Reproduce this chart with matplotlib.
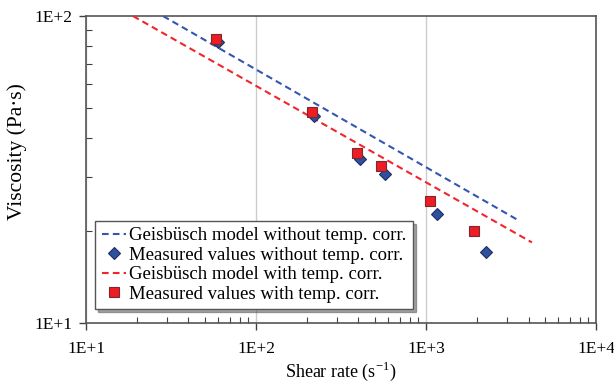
import matplotlib
matplotlib.use("Agg")
import matplotlib.pyplot as plt
from matplotlib.ticker import LogLocator, NullFormatter, FixedFormatter, FixedLocator

plt.rcParams['font.family'] = ['Liberation Serif', 'DejaVu Serif']

# measured values (shear rate 1/s, viscosity Pa s)
rate_without = [59.5, 219, 409, 574, 1161, 2244]
visc_without = [82.3, 47.2, 34.1, 30.6, 22.6, 17.0]
rate_with = [58.2, 213, 391, 542, 1056, 1909]
visc_with = [84.0, 48.8, 35.9, 32.5, 24.9, 19.9]

# Geisbüsch model lines (end points)
model_rate_without = [28.4, 3540]
model_visc_without = [100, 21.5]
model_rate_with = [18.9, 4190]
model_visc_with = [100, 18.3]

labels = ["Geisbüsch model without temp. corr.",
          "Measured values without temp. corr.",
          "Geisbüsch model with temp. corr.",
          "Measured values with temp. corr."]

fig = plt.figure(figsize=(6.14, 3.82), dpi=100)
ax = fig.add_axes([0.140, 0.1545, 0.831, 0.8035])

ax.plot(model_rate_without, model_visc_without, color='#3556b0', lw=1.5,
        dashes=(3.2, 2), label=labels[0], zorder=3)
ax.plot(rate_without, visc_without, ls='none', marker='D', ms=6.5,
        mfc='#2f4f9f', mec='#1c2f66', mew=0.8, label=labels[1], zorder=4)
ax.plot(model_rate_with, model_visc_with, color='#f0262e', lw=1.5,
        dashes=(3.2, 2), label=labels[2], zorder=3)
ax.plot(rate_with, visc_with, ls='none', marker='s', ms=6.5,
        mfc='#ee1c25', mec='#7a2a2a', mew=0.8, label=labels[3], zorder=5)

ax.set_xscale('log')
ax.set_yscale('log')
ax.set_xlim(10, 10000)
ax.set_ylim(10, 100)

ax.xaxis.set_major_locator(FixedLocator([10, 100, 1000, 10000]))
ax.xaxis.set_major_formatter(FixedFormatter(['1E+1', '1E+2', '1E+3', '1E+4']))
ax.yaxis.set_major_locator(FixedLocator([10, 100]))
ax.yaxis.set_major_formatter(FixedFormatter(['1E+1', '1E+2']))
ax.xaxis.set_minor_locator(LogLocator(base=10, subs=range(2, 10)))
ax.yaxis.set_minor_locator(LogLocator(base=10, subs=range(2, 10)))
ax.xaxis.set_minor_formatter(NullFormatter())
ax.yaxis.set_minor_formatter(NullFormatter())

ax.tick_params(which='major', direction='out', length=5, width=1,
               color='#404040', labelsize=12.5, pad=5)
ax.tick_params(which='minor', direction='in', length=4, width=0.8,
               color='#404040')
ax.tick_params(axis='x', which='major', pad=8)

ax.grid(True, which='major', axis='x', color='#cccccc', lw=1)
for s in ax.spines.values():
    s.set_color('#555555')
    s.set_linewidth(1.2)

ax.set_xlabel('Shear rate (s$^{\\mathregular{-1}}$)', fontsize=13, labelpad=2)
ax.set_ylabel('Viscosity (Pa·s)', fontsize=15.5)
ax.yaxis.set_label_coords(-0.116, 0.56)

leg = ax.legend(loc='lower left', bbox_to_anchor=(0.018, 0.045),
                fontsize=13.5, frameon=True, fancybox=False, shadow=True,
                handlelength=1.3, handletextpad=0.15, labelspacing=0.12,
                borderpad=0.35, borderaxespad=0)
leg.get_frame().set_edgecolor('#555555')
leg.get_frame().set_linewidth(1)

fig.savefig('out.png', dpi=100)
